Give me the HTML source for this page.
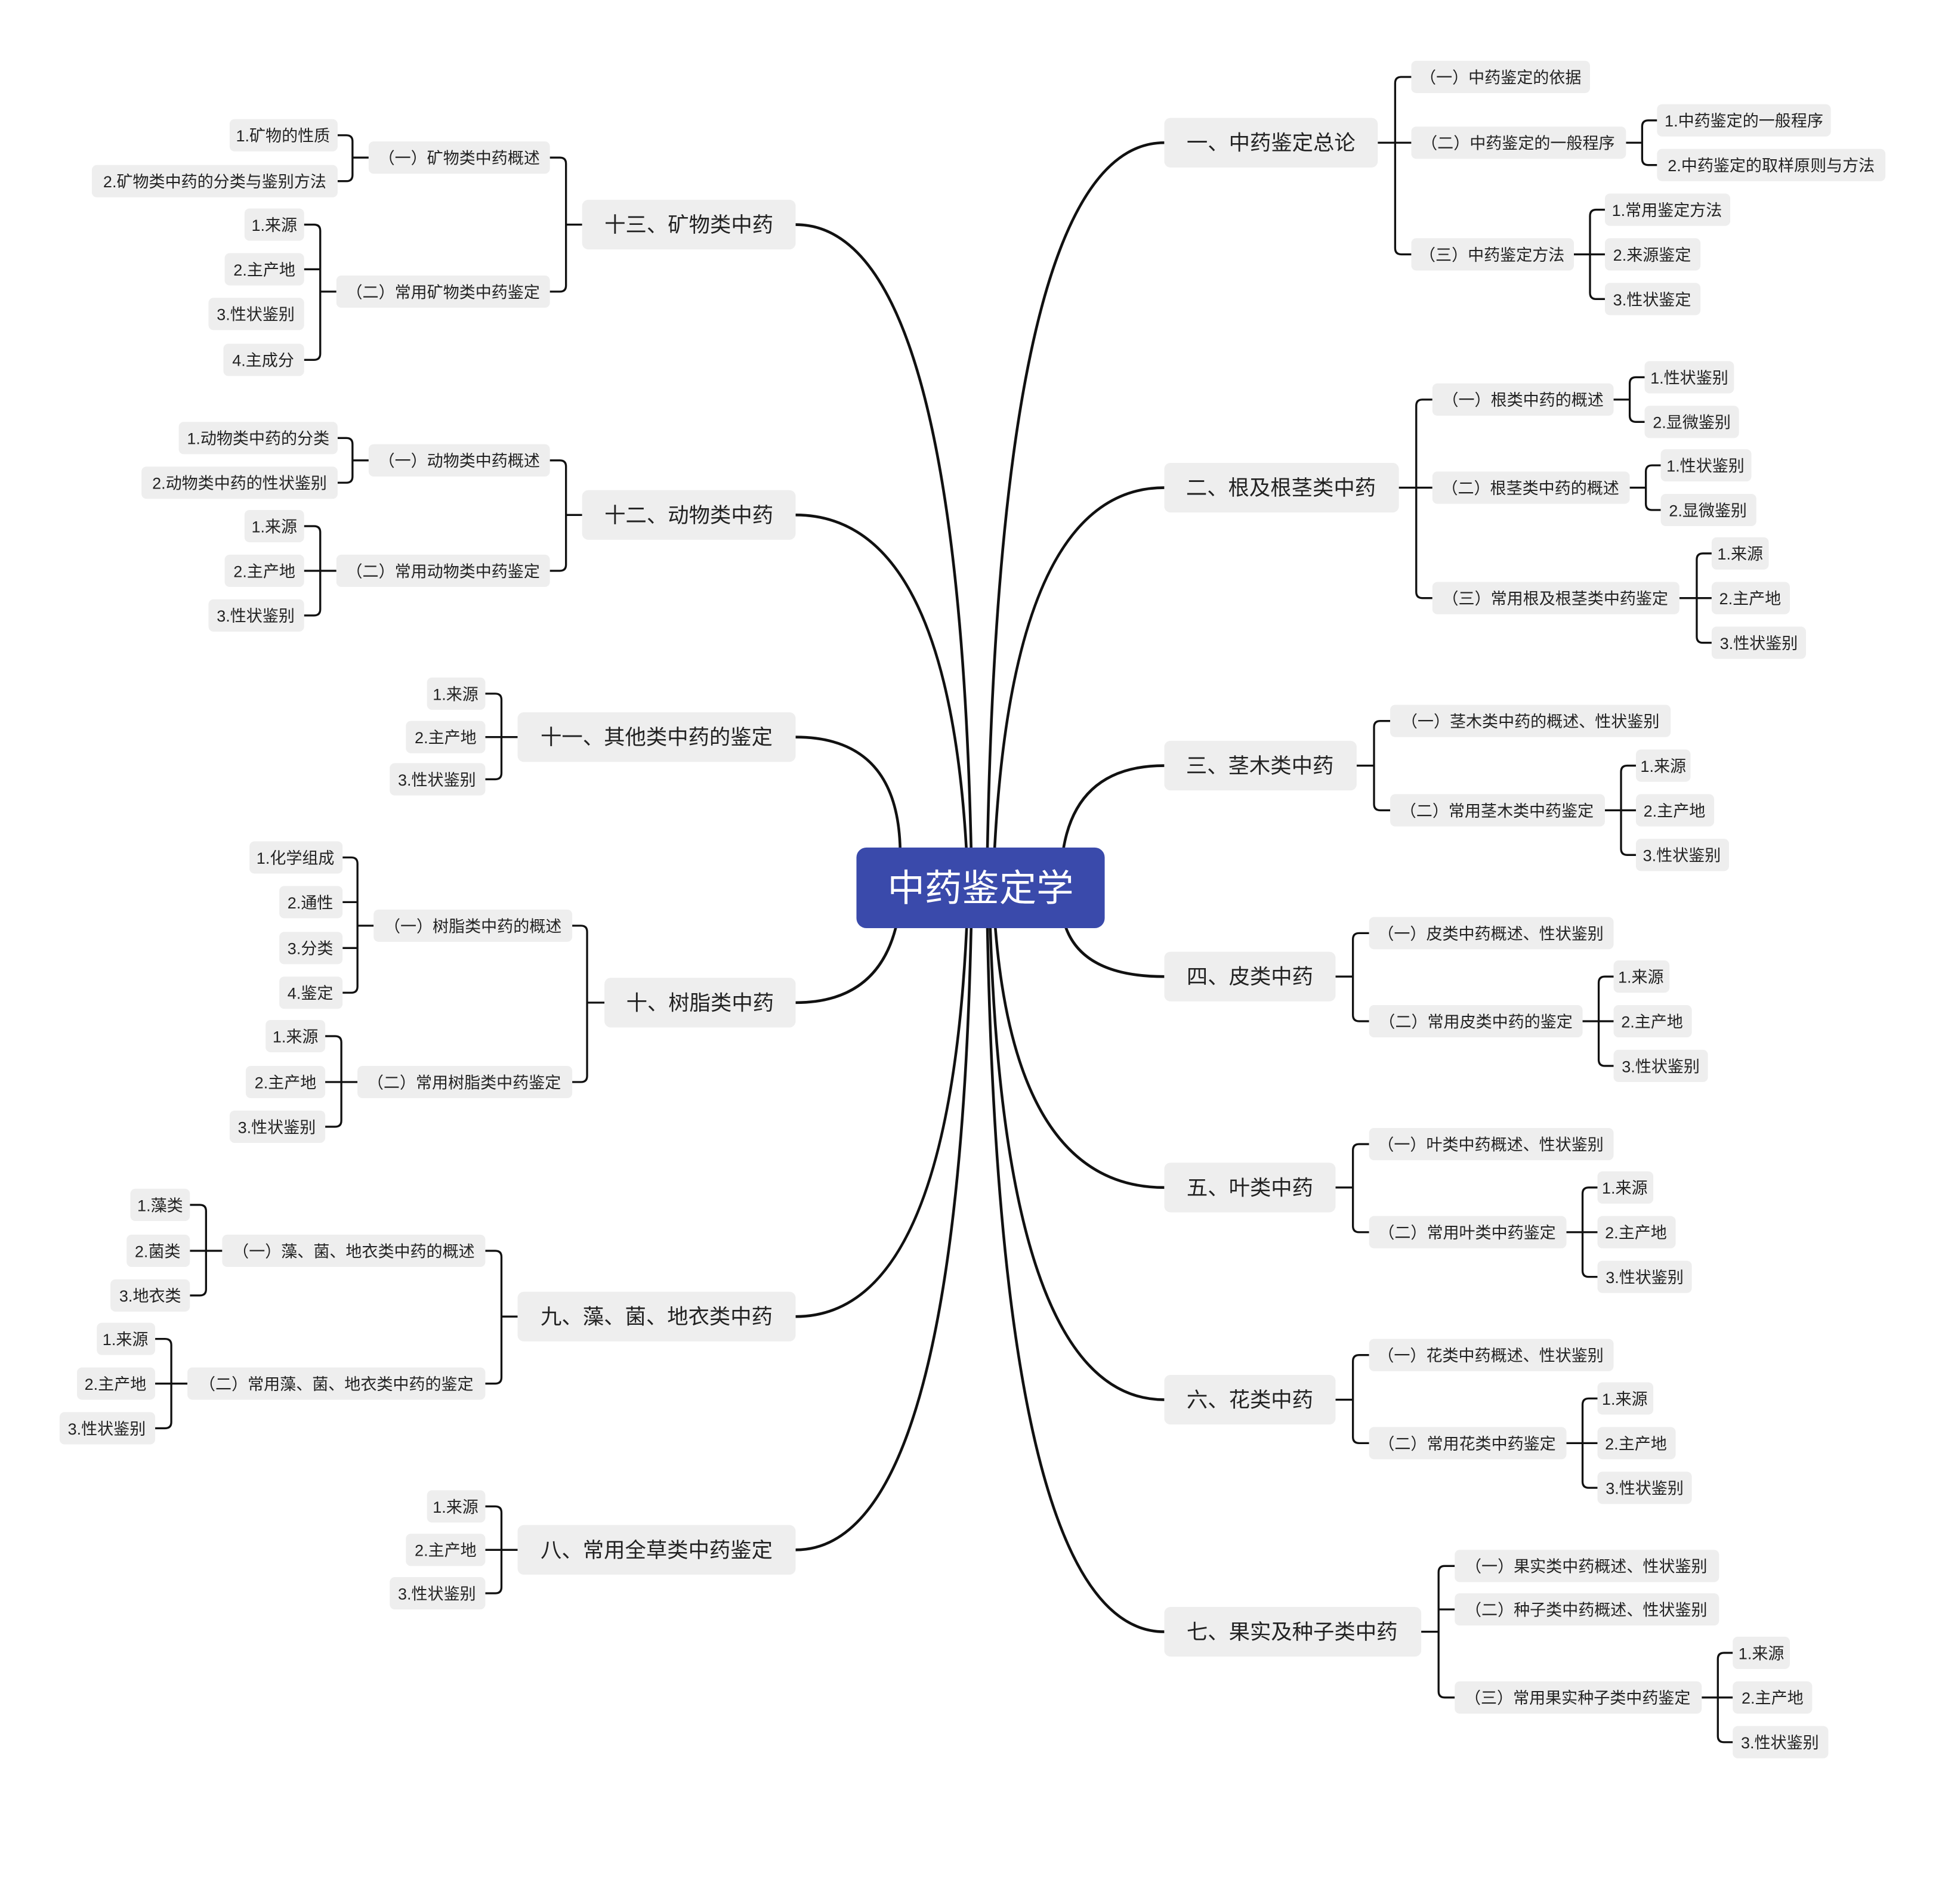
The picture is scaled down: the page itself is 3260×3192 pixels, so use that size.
<!DOCTYPE html>
<html><head><meta charset="utf-8"><style>
html,body{margin:0;padding:0;background:#fff;}
svg{display:block;}
.b{fill:#eeeeee;}
.t{font-family:"Liberation Sans","Noto Sans CJK SC",sans-serif;font-size:13px;text-anchor:middle;fill:#222;}
.t1{font-family:"Liberation Sans","Noto Sans CJK SC",sans-serif;font-size:17px;text-anchor:middle;fill:#222;}
.c{fill:none;stroke:#111;stroke-width:2.2;}
.k{fill:none;stroke:#111;stroke-width:1.6;}
</style></head><body>
<svg width="3260" height="3192" viewBox="0 0 1567 1534.4" preserveAspectRatio="none" xmlns="http://www.w3.org/2000/svg">
<path class="c" d="M795 716 Q803 115 938 115"/>
<path class="c" d="M800 716 Q810 393 938 393"/>
<path class="c" d="M855 700 Q860 617 938 617"/>
<path class="c" d="M855 730 Q860 787 938 787"/>
<path class="c" d="M800 716 Q810 957 938 957"/>
<path class="c" d="M797 716 Q805 1128 938 1128"/>
<path class="c" d="M795 716 Q803 1315 938 1315"/>
<path class="c" d="M783 716 Q775 181 641 181"/>
<path class="c" d="M780 716 Q770 415 641 415"/>
<path class="c" d="M725 700 Q730 594 641 594"/>
<path class="c" d="M725 730 Q715 808 641 808"/>
<path class="c" d="M780 716 Q770 1061 641 1061"/>
<path class="c" d="M783 716 Q775 1249 641 1249"/>

<g class="k">
<path d="M1110 115 H1137 M1124 115 V67 Q1124 62 1129 62 H1137 M1124 115 V200 Q1124 205 1129 205 H1137"/>
<path d="M1310 115 H1323 V102 Q1323 97 1328 97 H1335 M1323 115 V128 Q1323 133 1328 133 H1335"/>
<path d="M1268 205 H1293 M1281 205 V174 Q1281 169 1286 169 H1293 M1281 205 V236 Q1281 241 1286 241 H1293"/>
<path d="M1127 393 H1154 M1141 393 V327 Q1141 322 1146 322 H1154 M1141 393 V477 Q1141 482 1146 482 H1154"/>
<path d="M1300 322 H1313 V309 Q1313 304 1318 304 H1325 M1313 322 V335 Q1313 340 1318 340 H1325"/>
<path d="M1313 393 H1326 V380 Q1326 375 1331 375 H1338 M1326 393 V406 Q1326 411 1331 411 H1338"/>
<path d="M1353 482 H1379 M1367 482 V451 Q1367 446 1372 446 H1379 M1367 482 V513 Q1367 518 1372 518 H1379"/>
<path d="M1093 617 H1107 V586 Q1107 581 1112 581 H1120 M1107 617 V648 Q1107 653 1112 653 H1120"/>
<path d="M1293 653 H1318 M1306 653 V622 Q1306 617 1311 617 H1318 M1306 653 V684 Q1306 689 1311 689 H1318"/>
<path d="M1076 787 H1090 V757 Q1090 752 1095 752 H1103 M1090 787 V818 Q1090 823 1095 823 H1103"/>
<path d="M1275 823 H1300 M1288 823 V792 Q1288 787 1293 787 H1300 M1288 823 V854 Q1288 859 1293 859 H1300"/>
<path d="M1076 957 H1090 V927 Q1090 922 1095 922 H1103 M1090 957 V988 Q1090 993 1095 993 H1103"/>
<path d="M1262 993 H1287 M1275 993 V962 Q1275 957 1280 957 H1287 M1275 993 V1024 Q1275 1029 1280 1029 H1287"/>
<path d="M1076 1128 H1090 V1097 Q1090 1092 1095 1092 H1103 M1090 1128 V1158 Q1090 1163 1095 1163 H1103"/>
<path d="M1262 1163 H1287 M1275 1163 V1132 Q1275 1127 1280 1127 H1287 M1275 1163 V1194 Q1275 1199 1280 1199 H1287"/>
<path d="M1145 1315 H1159 V1267 Q1159 1262 1164 1262 H1172 M1159 1297 H1172 M1159 1315 V1363 Q1159 1368 1164 1368 H1172"/>
<path d="M1371 1368 H1396 M1384 1368 V1337 Q1384 1332 1389 1332 H1396 M1384 1368 V1399 Q1384 1404 1389 1404 H1396"/>

<path d="M469 181 H456 V132 Q456 127 451 127 H443 M456 181 V230 Q456 235 451 235 H443"/>
<path d="M297 127 H284 V114 Q284 109 279 109 H272 M284 127 V141 Q284 146 279 146 H272"/>
<path d="M271 235 H258 V186 Q258 181 253 181 H245 M258 217 H245 M258 235 V285 Q258 290 253 290 H245"/>
<path d="M469 415 H456 V376 Q456 371 451 371 H443 M456 415 V455 Q456 460 451 460 H443"/>
<path d="M297 371 H284 V358 Q284 353 279 353 H272 M284 371 V384 Q284 389 279 389 H272"/>
<path d="M271 460 H245 M258 460 V429 Q258 424 253 424 H245 M258 460 V491 Q258 496 253 496 H245"/>
<path d="M417 594 H391 M404 594 V564 Q404 559 399 559 H391 M404 594 V623 Q404 628 399 628 H391"/>
<path d="M487 808 H473 V751 Q473 746 468 746 H461 M473 808 V867 Q473 872 468 872 H461"/>
<path d="M301 746 H288 V696 Q288 691 283 691 H276 M288 727 H276 M288 764 H276 M288 746 V795 Q288 800 283 800 H276"/>
<path d="M288 872 H262 M275 872 V840 Q275 835 270 835 H262 M275 872 V903 Q275 908 270 908 H262"/>
<path d="M417 1061 H404 V1013 Q404 1008 399 1008 H391 M404 1061 V1110 Q404 1115 399 1115 H391"/>
<path d="M179 1008 H153 M166 1008 V976 Q166 971 161 971 H153 M166 1008 V1039 Q166 1044 161 1044 H153"/>
<path d="M151 1115 H125 M138 1115 V1084 Q138 1079 133 1079 H125 M138 1115 V1146 Q138 1151 133 1151 H125"/>
<path d="M417 1249 H391 M404 1249 V1219 Q404 1214 399 1214 H391 M404 1249 V1279 Q404 1284 399 1284 H391"/>
</g>

<rect x="690" y="683" width="200" height="65" rx="8" fill="#3a4aab"/>
<text x="790" y="726" font-family="Liberation Sans,Noto Sans CJK SC,sans-serif" font-size="30" fill="#fff" text-anchor="middle">中药鉴定学</text>

<rect class="b" x="938" y="95" width="172" height="40" rx="5"/><text class="t1" x="1024" y="121">一、中药鉴定总论</text>
<rect class="b" x="938" y="373" width="189" height="40" rx="5"/><text class="t1" x="1032" y="399">二、根及根茎类中药</text>
<rect class="b" x="938" y="597" width="155" height="40" rx="5"/><text class="t1" x="1015" y="623">三、茎木类中药</text>
<rect class="b" x="938" y="767" width="138" height="40" rx="5"/><text class="t1" x="1007" y="793">四、皮类中药</text>
<rect class="b" x="938" y="937" width="138" height="40" rx="5"/><text class="t1" x="1007" y="963">五、叶类中药</text>
<rect class="b" x="938" y="1108" width="138" height="40" rx="5"/><text class="t1" x="1007" y="1134">六、花类中药</text>
<rect class="b" x="938" y="1295" width="207" height="40" rx="5"/><text class="t1" x="1041" y="1321">七、果实及种子类中药</text>
<rect class="b" x="469" y="161" width="172" height="40" rx="5"/><text class="t1" x="555" y="187">十三、矿物类中药</text>
<rect class="b" x="469" y="395" width="172" height="40" rx="5"/><text class="t1" x="555" y="421">十二、动物类中药</text>
<rect class="b" x="417" y="574" width="224" height="40" rx="5"/><text class="t1" x="529" y="600">十一、其他类中药的鉴定</text>
<rect class="b" x="487" y="788" width="154" height="40" rx="5"/><text class="t1" x="564" y="814">十、树脂类中药</text>
<rect class="b" x="417" y="1041" width="224" height="40" rx="5"/><text class="t1" x="529" y="1067">九、藻、菌、地衣类中药</text>
<rect class="b" x="417" y="1229" width="224" height="40" rx="5"/><text class="t1" x="529" y="1255">八、常用全草类中药鉴定</text>

<rect class="b" x="1137" y="49" width="144" height="26" rx="4"/><text class="t" x="1209" y="67">（一）中药鉴定的依据</text>
<rect class="b" x="1137" y="102" width="173" height="26" rx="4"/><text class="t" x="1223" y="120">（二）中药鉴定的一般程序</text>
<rect class="b" x="1335" y="84" width="140" height="26" rx="4"/><text class="t" x="1405" y="102">1.中药鉴定的一般程序</text>
<rect class="b" x="1335" y="120" width="184" height="26" rx="4"/><text class="t" x="1427" y="138">2.中药鉴定的取样原则与方法</text>
<rect class="b" x="1137" y="192" width="131" height="26" rx="4"/><text class="t" x="1202" y="210">（三）中药鉴定方法</text>
<rect class="b" x="1293" y="156" width="101" height="26" rx="4"/><text class="t" x="1343" y="174">1.常用鉴定方法</text>
<rect class="b" x="1293" y="192" width="77" height="26" rx="4"/><text class="t" x="1331" y="210">2.来源鉴定</text>
<rect class="b" x="1293" y="228" width="77" height="26" rx="4"/><text class="t" x="1331" y="246">3.性状鉴定</text>

<rect class="b" x="1154" y="309" width="146" height="26" rx="4"/><text class="t" x="1227" y="327">（一）根类中药的概述</text>
<rect class="b" x="1325" y="291" width="72" height="26" rx="4"/><text class="t" x="1361" y="309">1.性状鉴别</text>
<rect class="b" x="1325" y="327" width="76" height="26" rx="4"/><text class="t" x="1363" y="345">2.显微鉴别</text>
<rect class="b" x="1154" y="380" width="159" height="26" rx="4"/><text class="t" x="1233" y="398">（二）根茎类中药的概述</text>
<rect class="b" x="1338" y="362" width="73" height="26" rx="4"/><text class="t" x="1374" y="380">1.性状鉴别</text>
<rect class="b" x="1338" y="398" width="77" height="26" rx="4"/><text class="t" x="1376" y="416">2.显微鉴别</text>
<rect class="b" x="1154" y="469" width="199" height="26" rx="4"/><text class="t" x="1253" y="487">（三）常用根及根茎类中药鉴定</text>
<rect class="b" x="1379" y="433" width="46" height="26" rx="4"/><text class="t" x="1402" y="451">1.来源</text>
<rect class="b" x="1379" y="469" width="63" height="26" rx="4"/><text class="t" x="1410" y="487">2.主产地</text>
<rect class="b" x="1379" y="505" width="76" height="26" rx="4"/><text class="t" x="1417" y="523">3.性状鉴别</text>

<rect class="b" x="1120" y="568" width="226" height="26" rx="4"/><text class="t" x="1233" y="586">（一）茎木类中药的概述、性状鉴别</text>
<rect class="b" x="1120" y="640" width="173" height="26" rx="4"/><text class="t" x="1206" y="658">（二）常用茎木类中药鉴定</text>
<rect class="b" x="1318" y="604" width="44" height="26" rx="4"/><text class="t" x="1340" y="622">1.来源</text>
<rect class="b" x="1318" y="640" width="63" height="26" rx="4"/><text class="t" x="1349" y="658">2.主产地</text>
<rect class="b" x="1318" y="676" width="75" height="26" rx="4"/><text class="t" x="1355" y="694">3.性状鉴别</text>

<rect class="b" x="1103" y="739" width="197" height="26" rx="4"/><text class="t" x="1201" y="757">（一）皮类中药概述、性状鉴别</text>
<rect class="b" x="1103" y="810" width="172" height="26" rx="4"/><text class="t" x="1189" y="828">（二）常用皮类中药的鉴定</text>
<rect class="b" x="1300" y="774" width="45" height="26" rx="4"/><text class="t" x="1322" y="792">1.来源</text>
<rect class="b" x="1300" y="810" width="63" height="26" rx="4"/><text class="t" x="1331" y="828">2.主产地</text>
<rect class="b" x="1300" y="846" width="76" height="26" rx="4"/><text class="t" x="1338" y="864">3.性状鉴别</text>

<rect class="b" x="1103" y="909" width="197" height="26" rx="4"/><text class="t" x="1201" y="927">（一）叶类中药概述、性状鉴别</text>
<rect class="b" x="1103" y="980" width="159" height="26" rx="4"/><text class="t" x="1182" y="998">（二）常用叶类中药鉴定</text>
<rect class="b" x="1287" y="944" width="45" height="26" rx="4"/><text class="t" x="1309" y="962">1.来源</text>
<rect class="b" x="1287" y="980" width="63" height="26" rx="4"/><text class="t" x="1318" y="998">2.主产地</text>
<rect class="b" x="1287" y="1016" width="76" height="26" rx="4"/><text class="t" x="1325" y="1034">3.性状鉴别</text>

<rect class="b" x="1103" y="1079" width="197" height="26" rx="4"/><text class="t" x="1201" y="1097">（一）花类中药概述、性状鉴别</text>
<rect class="b" x="1103" y="1150" width="159" height="26" rx="4"/><text class="t" x="1182" y="1168">（二）常用花类中药鉴定</text>
<rect class="b" x="1287" y="1114" width="45" height="26" rx="4"/><text class="t" x="1309" y="1132">1.来源</text>
<rect class="b" x="1287" y="1150" width="63" height="26" rx="4"/><text class="t" x="1318" y="1168">2.主产地</text>
<rect class="b" x="1287" y="1186" width="76" height="26" rx="4"/><text class="t" x="1325" y="1204">3.性状鉴别</text>

<rect class="b" x="1172" y="1249" width="213" height="26" rx="4"/><text class="t" x="1278" y="1267">（一）果实类中药概述、性状鉴别</text>
<rect class="b" x="1172" y="1284" width="213" height="26" rx="4"/><text class="t" x="1278" y="1302">（二）种子类中药概述、性状鉴别</text>
<rect class="b" x="1172" y="1355" width="199" height="26" rx="4"/><text class="t" x="1271" y="1373">（三）常用果实种子类中药鉴定</text>
<rect class="b" x="1396" y="1319" width="46" height="26" rx="4"/><text class="t" x="1419" y="1337">1.来源</text>
<rect class="b" x="1396" y="1355" width="64" height="26" rx="4"/><text class="t" x="1428" y="1373">2.主产地</text>
<rect class="b" x="1396" y="1391" width="77" height="26" rx="4"/><text class="t" x="1434" y="1409">3.性状鉴别</text>

<rect class="b" x="297" y="114" width="146" height="26" rx="4"/><text class="t" x="370" y="132">（一）矿物类中药概述</text>
<rect class="b" x="185" y="96" width="87" height="26" rx="4"/><text class="t" x="228" y="114">1.矿物的性质</text>
<rect class="b" x="74" y="133" width="198" height="26" rx="4"/><text class="t" x="173" y="151">2.矿物类中药的分类与鉴别方法</text>
<rect class="b" x="271" y="222" width="172" height="26" rx="4"/><text class="t" x="357" y="240">（二）常用矿物类中药鉴定</text>
<rect class="b" x="197" y="168" width="48" height="26" rx="4"/><text class="t" x="221" y="186">1.来源</text>
<rect class="b" x="181" y="204" width="64" height="26" rx="4"/><text class="t" x="213" y="222">2.主产地</text>
<rect class="b" x="168" y="240" width="77" height="26" rx="4"/><text class="t" x="206" y="258">3.性状鉴别</text>
<rect class="b" x="180" y="277" width="65" height="26" rx="4"/><text class="t" x="212" y="295">4.主成分</text>

<rect class="b" x="297" y="358" width="146" height="26" rx="4"/><text class="t" x="370" y="376">（一）动物类中药概述</text>
<rect class="b" x="144" y="340" width="128" height="26" rx="4"/><text class="t" x="208" y="358">1.动物类中药的分类</text>
<rect class="b" x="114" y="376" width="158" height="26" rx="4"/><text class="t" x="193" y="394">2.动物类中药的性状鉴别</text>
<rect class="b" x="271" y="447" width="172" height="26" rx="4"/><text class="t" x="357" y="465">（二）常用动物类中药鉴定</text>
<rect class="b" x="197" y="411" width="48" height="26" rx="4"/><text class="t" x="221" y="429">1.来源</text>
<rect class="b" x="181" y="447" width="64" height="26" rx="4"/><text class="t" x="213" y="465">2.主产地</text>
<rect class="b" x="168" y="483" width="77" height="26" rx="4"/><text class="t" x="206" y="501">3.性状鉴别</text>

<rect class="b" x="344" y="546" width="47" height="26" rx="4"/><text class="t" x="367" y="564">1.来源</text>
<rect class="b" x="327" y="581" width="64" height="26" rx="4"/><text class="t" x="359" y="599">2.主产地</text>
<rect class="b" x="314" y="615" width="77" height="26" rx="4"/><text class="t" x="352" y="633">3.性状鉴别</text>

<rect class="b" x="301" y="733" width="160" height="26" rx="4"/><text class="t" x="381" y="751">（一）树脂类中药的概述</text>
<rect class="b" x="201" y="678" width="75" height="26" rx="4"/><text class="t" x="238" y="696">1.化学组成</text>
<rect class="b" x="225" y="714" width="51" height="26" rx="4"/><text class="t" x="250" y="732">2.通性</text>
<rect class="b" x="225" y="751" width="51" height="26" rx="4"/><text class="t" x="250" y="769">3.分类</text>
<rect class="b" x="225" y="787" width="51" height="26" rx="4"/><text class="t" x="250" y="805">4.鉴定</text>
<rect class="b" x="288" y="859" width="173" height="26" rx="4"/><text class="t" x="374" y="877">（二）常用树脂类中药鉴定</text>
<rect class="b" x="214" y="822" width="48" height="26" rx="4"/><text class="t" x="238" y="840">1.来源</text>
<rect class="b" x="198" y="859" width="64" height="26" rx="4"/><text class="t" x="230" y="877">2.主产地</text>
<rect class="b" x="185" y="895" width="77" height="26" rx="4"/><text class="t" x="223" y="913">3.性状鉴别</text>

<rect class="b" x="179" y="995" width="212" height="26" rx="4"/><text class="t" x="285" y="1013">（一）藻、菌、地衣类中药的概述</text>
<rect class="b" x="105" y="958" width="48" height="26" rx="4"/><text class="t" x="129" y="976">1.藻类</text>
<rect class="b" x="102" y="995" width="51" height="26" rx="4"/><text class="t" x="127" y="1013">2.菌类</text>
<rect class="b" x="89" y="1031" width="64" height="26" rx="4"/><text class="t" x="121" y="1049">3.地衣类</text>
<rect class="b" x="151" y="1102" width="240" height="26" rx="4"/><text class="t" x="271" y="1120">（二）常用藻、菌、地衣类中药的鉴定</text>
<rect class="b" x="78" y="1066" width="47" height="26" rx="4"/><text class="t" x="101" y="1084">1.来源</text>
<rect class="b" x="62" y="1102" width="63" height="26" rx="4"/><text class="t" x="93" y="1120">2.主产地</text>
<rect class="b" x="48" y="1138" width="77" height="26" rx="4"/><text class="t" x="86" y="1156">3.性状鉴别</text>

<rect class="b" x="344" y="1201" width="47" height="26" rx="4"/><text class="t" x="367" y="1219">1.来源</text>
<rect class="b" x="327" y="1236" width="64" height="26" rx="4"/><text class="t" x="359" y="1254">2.主产地</text>
<rect class="b" x="314" y="1271" width="77" height="26" rx="4"/><text class="t" x="352" y="1289">3.性状鉴别</text>
</svg>
</body></html>
